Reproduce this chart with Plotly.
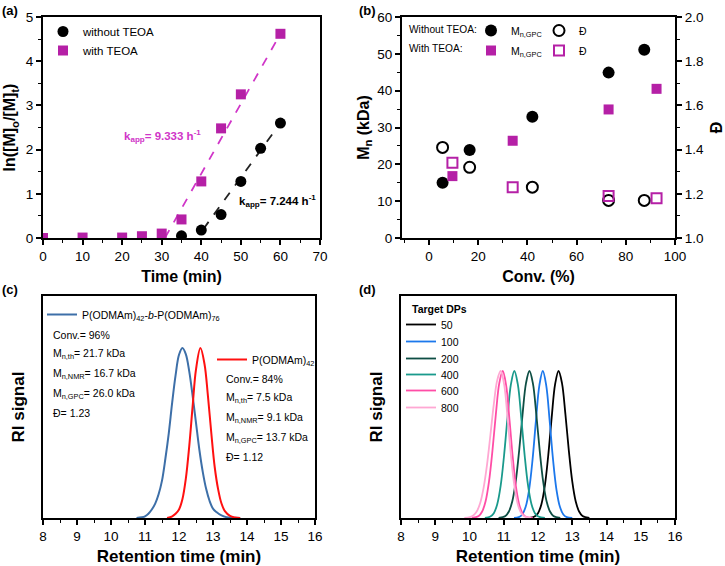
import plotly.graph_objects as go

W, H = 725, 566
def px(x):
    return x / W
def py(y):
    return 1 - y / H

FONT = "Arial, Liberation Sans, sans-serif"
MAG = "#B520A6"
MAG_TXT = "#D035C8"

# ---------------- (a) kinetics ----------------
time_without = [35, 40, 45, 50, 55, 60]
ln_without = [0.05, 0.18, 0.53, 1.28, 2.03, 2.60]
time_with = [0, 10, 20, 25, 30, 35, 40, 45, 50, 60]
ln_with = [0.0, 0.01, 0.01, 0.04, 0.10, 0.42, 1.28, 2.48, 3.25, 4.62]
fit_with_t = [30.8, 60]
fit_with_y = [0.0, 4.62]
fit_without_t = [40.5, 60]
fit_without_y = [0.20, 2.60]

# ---------------- (b) Mn / dispersity ----------------
conv_without = [5.5, 16.5, 42, 73, 87.5]
mn_without = [15.0, 23.9, 32.9, 44.9, 51.1]
disp_without = [1.41, 1.32, 1.23, 1.17, 1.17]
conv_with = [9.5, 34, 73, 92.5]
mn_with = [16.8, 26.4, 34.9, 40.5]
disp_with = [1.34, 1.23, 1.19, 1.18]

# ---------------- (c) GPC traces ----------------
c_block_t = [10.75, 10.9, 11.0, 11.1, 11.2, 11.3, 11.4, 11.5, 11.6, 11.7, 11.8, 11.9, 12.0, 12.1,
             12.2, 12.3, 12.4, 12.5, 12.6, 12.7, 12.8, 12.9, 13.0, 13.1, 13.25, 13.4, 13.6, 13.8]
c_block_ri = [0, 0.004, 0.01, 0.025, 0.05, 0.085, 0.14, 0.22, 0.35, 0.50, 0.68, 0.84, 0.96, 1.0,
              0.964, 0.864, 0.72, 0.56, 0.40, 0.27, 0.17, 0.10, 0.055, 0.035, 0.015, 0.005, 0.001, 0]
c_macro_t = [11.65, 11.8, 11.9, 12.0, 12.1, 12.2, 12.3, 12.4, 12.5, 12.63,
             12.75, 12.85, 12.95, 13.05, 13.15, 13.25, 13.35, 13.5, 13.65, 13.8]
c_macro_ri = [0, 0.01, 0.025, 0.05, 0.11, 0.23, 0.42, 0.655, 0.874, 1.0,
              0.906, 0.72, 0.50, 0.30, 0.17, 0.085, 0.04, 0.012, 0.003, 0]

# ---------------- (d) GPC traces vs target DP ----------------
dp_labels = ["50", "100", "200", "400", "600", "800"]
dp_colors = ["#000000", "#1C78EC", "#0E4E44", "#1A9A8C", "#FF4DA6", "#FFA8D3"]
d_t50 = [11.75, 11.9, 12.0, 12.1, 12.2, 12.3, 12.4, 12.5, 12.6, 12.7, 12.8, 12.9, 13.0, 13.1, 13.2, 13.3, 13.5]
d_ri50 = [0, 0.01, 0.033, 0.094, 0.22, 0.427, 0.685, 0.91, 1, 0.917, 0.707, 0.458, 0.249, 0.114, 0.044, 0.014, 0]
d_t100 = [11.3, 11.44, 11.54, 11.64, 11.74, 11.84, 11.94, 12.04, 12.14, 12.24, 12.34, 12.44, 12.54, 12.64, 12.74, 12.84, 13.0]
d_ri100 = [0, 0.006, 0.024, 0.076, 0.192, 0.395, 0.662, 0.902, 1, 0.902, 0.662, 0.395, 0.192, 0.076, 0.024, 0.006, 0]
d_t200 = [10.85, 11.05, 11.15, 11.25, 11.35, 11.45, 11.55, 11.65, 11.75, 11.85, 11.95, 12.05, 12.15, 12.25, 12.35, 12.45, 12.65]
d_ri200 = [0, 0.014, 0.044, 0.114, 0.249, 0.458, 0.707, 0.917, 1, 0.917, 0.707, 0.458, 0.249, 0.114, 0.044, 0.014, 0]
d_t400 = [10.45, 10.61, 10.71, 10.81, 10.91, 11.01, 11.11, 11.21, 11.31, 11.41, 11.51, 11.61, 11.71, 11.81, 11.91, 12.01, 12.2]
d_ri400 = [0, 0.01, 0.033, 0.094, 0.22, 0.427, 0.685, 0.91, 1, 0.91, 0.685, 0.427, 0.22, 0.094, 0.033, 0.01, 0]
d_t600 = [10.07, 10.27, 10.37, 10.47, 10.57, 10.67, 10.77, 10.87, 10.97, 11.07, 11.17, 11.27, 11.37, 11.47, 11.57, 11.67, 11.85]
d_ri600 = [0, 0.014, 0.044, 0.114, 0.249, 0.458, 0.707, 0.917, 1, 0.902, 0.662, 0.395, 0.192, 0.076, 0.024, 0.006, 0]
d_t800 = [9.85, 10.01, 10.11, 10.21, 10.31, 10.41, 10.51, 10.61, 10.71, 10.81, 10.91, 11.01, 11.11, 11.21, 11.31, 11.41, 11.51, 11.61, 11.8]
d_ri800 = [0, 0.006, 0.017, 0.044, 0.1, 0.203, 0.36, 0.563, 0.775, 0.938, 1, 0.91, 0.685, 0.427, 0.22, 0.094, 0.033, 0.01, 0]
d_t = [d_t50, d_t100, d_t200, d_t400, d_t600, d_t800]
d_ri = [d_ri50, d_ri100, d_ri200, d_ri400, d_ri600, d_ri800]

fig = go.Figure()

# (a)
fig.add_trace(go.Scatter(x=fit_with_t, y=fit_with_y, mode="lines", xaxis="x", yaxis="y",
                         line=dict(color=MAG_TXT, width=1.8, dash="dash"), showlegend=False))
fig.add_trace(go.Scatter(x=fit_without_t, y=fit_without_y, mode="lines", xaxis="x", yaxis="y",
                         line=dict(color="#222222", width=1.8, dash="dash"), showlegend=False))
fig.add_trace(go.Scatter(x=time_without, y=ln_without, mode="markers", name="without TEOA",
                         xaxis="x", yaxis="y", legend="legend",
                         marker=dict(symbol="circle", size=11, color="black")))
fig.add_trace(go.Scatter(x=time_with, y=ln_with, mode="markers", name="with TEOA",
                         xaxis="x", yaxis="y", legend="legend",
                         marker=dict(symbol="square", size=10, color=MAG)))

# (b)
fig.add_trace(go.Scatter(x=conv_without, y=mn_without, mode="markers", name="M<sub>n,GPC</sub>",
                         xaxis="x2", yaxis="y2", legend="legend2",
                         marker=dict(symbol="circle", size=12, color="black")))
fig.add_trace(go.Scatter(x=conv_without, y=disp_without, mode="markers", name="Đ",
                         xaxis="x2", yaxis="y3", legend="legend3",
                         marker=dict(symbol="circle-open", size=11, color="black", line=dict(width=2, color="black"))))
fig.add_trace(go.Scatter(x=conv_with, y=mn_with, mode="markers", name="M<sub>n,GPC</sub>",
                         xaxis="x2", yaxis="y2", legend="legend4",
                         marker=dict(symbol="square", size=10, color=MAG)))
fig.add_trace(go.Scatter(x=conv_with, y=disp_with, mode="markers", name="Đ",
                         xaxis="x2", yaxis="y3", legend="legend5",
                         marker=dict(symbol="square-open", size=10, color=MAG, line=dict(width=2, color=MAG))))

# (c)
fig.add_trace(go.Scatter(x=c_block_t, y=c_block_ri, mode="lines", line_shape="spline",
                         name="P(ODMAm)<sub>42</sub>-<i>b</i>-P(ODMAm)<sub>76</sub>",
                         xaxis="x3", yaxis="y4", legend="legend6",
                         line=dict(color="#3D6FA8", width=2)))
fig.add_trace(go.Scatter(x=c_macro_t, y=c_macro_ri, mode="lines", line_shape="spline",
                         name="P(ODMAm)<sub>42</sub>",
                         xaxis="x3", yaxis="y4", legend="legend7",
                         line=dict(color="#FF1010", width=2)))

# (d) one legend per entry so rows can sit closer together
d_leg_names = ["legend8", "legend9", "legend10", "legend11", "legend12", "legend13"]
for lab, col, tx, ry, lg in zip(dp_labels, dp_colors, d_t, d_ri, d_leg_names):
    fig.add_trace(go.Scatter(x=tx, y=ry, mode="lines", line_shape="spline", name=lab,
                             xaxis="x4", yaxis="y5", legend=lg,
                             line=dict(color=col, width=1.8)))

tickfont = dict(family=FONT, size=13.5, color="black")
def xax(domain, anchor, rng, dtick, minor_dtick, title, tsize, standoff):
    return dict(domain=domain, anchor=anchor, range=rng, dtick=dtick, tick0=0,
                showline=True, linecolor="black", linewidth=2, mirror=True,
                ticks="outside", ticklen=5, tickwidth=1.5, tickcolor="black",
                minor=dict(dtick=minor_dtick, ticks="outside", ticklen=3, tickwidth=1.2, tickcolor="black"),
                showgrid=False, zeroline=False, tickfont=tickfont,
                title=dict(text=title, font=dict(family=FONT, size=tsize, color="black", weight="bold"),
                           standoff=standoff),
                automargin=False)

def yax(domain, anchor, rng, dtick, minor_dtick, title, tsize, standoff, **kw):
    d = dict(domain=domain, anchor=anchor, range=rng, dtick=dtick,
             showline=True, linecolor="black", linewidth=2, mirror=True,
             ticks="outside", ticklen=5, tickwidth=1.5, tickcolor="black",
             minor=dict(dtick=minor_dtick, ticks="outside", ticklen=3, tickwidth=1.2, tickcolor="black"),
             showgrid=False, zeroline=False, tickfont=tickfont,
             title=dict(text=title, font=dict(family=FONT, size=tsize, color="black", weight="bold"),
                        standoff=standoff),
             automargin=False)
    d.update(kw)
    return d

def leg(x, y, size=11, **kw):
    d = dict(x=px(x), y=py(y), xanchor="left", yanchor="top", bgcolor="rgba(0,0,0,0)",
             font=dict(family=FONT, size=size), tracegroupgap=0)
    d.update(kw)
    return d

top_dom = [py(238), py(17)]
bot_dom = [py(518), py(296)]

layout = dict(
    width=W, height=H, autosize=False,
    margin=dict(l=0, r=0, t=0, b=0),
    paper_bgcolor="white", plot_bgcolor="white",
    font=dict(family=FONT, color="black"),
    xaxis=xax([px(43), px(320)], "y", [0, 70], 10, 5, "Time (min)", 16, 8),
    yaxis=yax(top_dom, "x", [0, 5], 1, 0.5, "ln([M]<sub>o</sub>/[M]<sub>t</sub>)", 16, 6),
    xaxis2=xax([px(402), px(675)], "y2", [-11, 100], 20, 10, "Conv. (%)", 16, 8),
    yaxis2=yax(top_dom, "x2", [0, 60], 10, 5, "M<sub>n</sub> (kDa)", 16, 4, mirror=False),
    yaxis3=yax(top_dom, "x2", [1.0, 2.0], 0.2, 0.1, "Đ", 16, 13, overlaying="y2", side="right",
               tickformat=".1f", mirror=False),
    xaxis3=xax([px(43), px(315)], "y4", [8, 16], 1, 0.5, "Retention time (min)", 17, 8),
    yaxis4=dict(domain=bot_dom, anchor="x3", range=[0, 1.306], showline=True, linecolor="black",
                linewidth=2, mirror=True, ticks="", showticklabels=False, showgrid=False, zeroline=False,
                title=dict(text="RI signal", font=dict(family=FONT, size=17, color="black", weight="bold"),
                           standoff=12), automargin=False),
    xaxis4=xax([px(401), px(675)], "y5", [8, 16], 1, 0.5, "Retention time (min)", 17, 8),
    yaxis5=dict(domain=bot_dom, anchor="x4", range=[0, 1.51], showline=True, linecolor="black",
                linewidth=2, mirror=True, ticks="", showticklabels=False, showgrid=False, zeroline=False,
                title=dict(text="RI signal", font=dict(family=FONT, size=17, color="black", weight="bold"),
                           standoff=12), automargin=False),
    legend=leg(43, 17, 11.5),
    legend2=leg(471, 16, 10.5),
    legend3=leg(539, 16, 10.5),
    legend4=leg(471, 36, 10.5),
    legend5=leg(539, 36, 10.5),
    legend6=leg(42, 300, 10.5),
    legend7=leg(212, 345, 10.5),
)
d_leg_tops = [310, 327, 344, 360, 376, 393]
for lg, top in zip(d_leg_names, d_leg_tops):
    layout[lg] = leg(401, top, 10.5)
fig.update_layout(**layout)

ann = []
def A(x, y, text, size=10.5, color="black", bold=False, xref="paper", yref="paper", xanchor="left"):
    ann.append(dict(x=x, y=y, xref=xref, yref=yref, text=text, showarrow=False, xanchor=xanchor,
                    yanchor="middle", font=dict(family=FONT, size=size, color=color,
                                                weight="bold" if bold else "normal")))

# panel labels
A(px(0), py(10), "(a)", 13, bold=True)
A(px(357), py(10), "(b)", 13, bold=True)
A(px(0), py(289), "(c)", 13, bold=True)
A(px(357), py(289), "(d)", 13, bold=True)

# (a) rate constants
A(20, 2.3, "k<sub>app</sub>= 9.333 h<sup>-1</sup>", 11.5, MAG_TXT, True, "x", "y")
A(49, 0.83, "k<sub>app</sub>= 7.244 h<sup>-1</sup>", 11.5, "black", True, "x", "y")

# (b) row labels
A(px(407), py(29), "Without TEOA:", 10.2)
A(px(407), py(49), "With TEOA:", 10.2)

# (c) text blocks
left_block = ["Conv.= 96%", "M<sub>n,th</sub>= 21.7 kDa", "M<sub>n,NMR</sub>= 16.7 kDa",
              "M<sub>n,GPC</sub>= 26.0 kDa", "Đ= 1.23"]
left_y = [335, 354, 374, 394, 413]
right_block = ["Conv.= 84%", "M<sub>n,th</sub>= 7.5 kDa", "M<sub>n,NMR</sub>= 9.1 kDa",
               "M<sub>n,GPC</sub>= 13.7 kDa", "Đ= 1.12"]
right_y = [379, 398, 418, 438, 457]
for t, yy in zip(left_block, left_y):
    A(px(51), py(yy), t, 10.5)
for t, yy in zip(right_block, right_y):
    A(px(224), py(yy), t, 10.5)

# (d) legend title
A(px(410), py(309), "Target DPs", 10.5, bold=True)

fig.update_layout(annotations=ann)
fig.write_html("out.html")
